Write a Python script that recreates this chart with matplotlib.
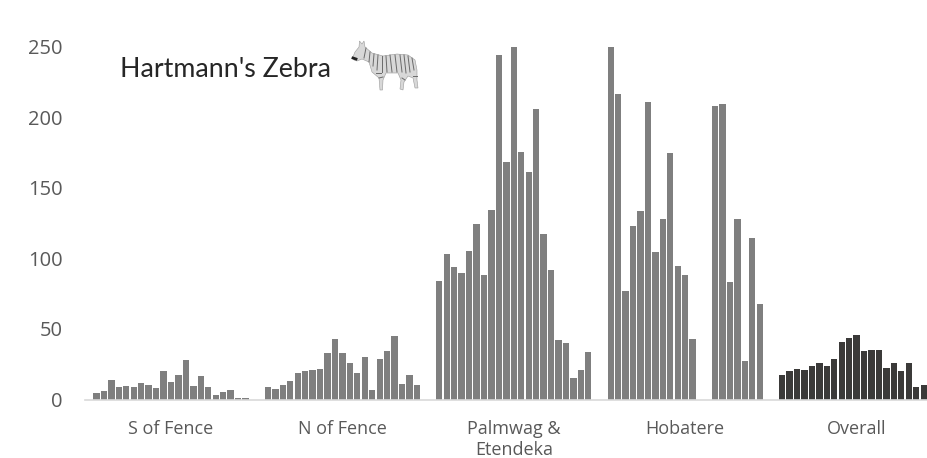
import matplotlib
matplotlib.use("Agg")
import matplotlib.pyplot as plt
from matplotlib.patches import Polygon

categories = ["S of Fence", "N of Fence", "Palmwag &\nEtendeka", "Hobatere", "Overall"]
s_fence = [4.7, 5.7, 13.9, 9.2, 9.7, 9.2, 11.8, 10.4, 8.0, 20.0, 12.5, 17.2, 28.0, 9.7, 16.3, 8.5, 3.0, 5.2, 6.8, 1.4, 1.2]
n_fence = [9.2, 7.1, 10.2, 13.0, 18.9, 20.5, 20.8, 21.5, 33.0, 42.7, 32.6, 26.2, 18.9, 30.0, 6.8, 29.0, 34.5, 45.0, 10.9, 17.5, 10.6]
palmwag = [84, 103.3, 93.6, 89.4, 105.2, 124.1, 88.4, 134, 243.7, 168, 250, 175.2, 160.8, 205.7, 117, 91.5, 41.8, 39.7, 14.9, 20.6, 33.6]
hobatere = [250, 216.3, 76.6, 123.2, 133.3, 210.6, 104.3, 127.7, 174.5, 94.8, 87.9, 42.6, 0, 0, 207.6, 209.2, 83, 128.1, 27, 114.4, 67.8]
overall = [17.7, 20, 21.5, 20.8, 23.8, 26.2, 23.8, 29, 40.6, 43.9, 46, 34.7, 35.2, 35.2, 22, 25.5, 20, 26.2, 9.2, 10.6]
y_ticks = [0, 50, 100, 150, 200, 250]
title = "Hartmann's Zebra"

W, H = 928, 458
fig = plt.figure(figsize=(W / 100, H / 100), dpi=100)
left, right, top, bottom = 85.3, 928, 46.5, 399.5
ax = fig.add_axes([left / W, 1 - bottom / H, (right - left) / W, (bottom - top) / H])

series = [s_fence, n_fence, palmwag, hobatere, overall]
colors = ["#7f7f7f"] * 4 + ["#3b3a39"]
pos = 0
centers = []
for vals, c in zip(series, colors):
    xs = list(range(pos, pos + len(vals)))
    ax.bar(xs, vals, width=0.85, color=c, linewidth=0)
    centers.append(pos + 10)
    pos += 23

ax.set_xlim((left - 96.5) / 7.452, (right - 96.5) / 7.452)
ax.set_ylim(0, 250)
for s in ["top", "right", "left"]:
    ax.spines[s].set_visible(False)
ax.spines["bottom"].set_color("#d9d9d9")
ax.spines["bottom"].set_linewidth(1.2)
ax.set_xticks(centers)
ax.set_xticklabels(categories, fontsize=13, color="#595959", family="Open Sans", linespacing=1.2)
ax.set_yticks(y_ticks)
ax.set_yticklabels([str(v) for v in y_ticks], fontsize=14.5, color="#595959", family="Open Sans")
ax.tick_params(axis="both", length=0)
ax.tick_params(axis="x", pad=15)
ax.tick_params(axis="y", pad=16.5)

# overlay in pixel coordinates for the caption and zebra icon
ov = fig.add_axes([0, 0, 1, 1], facecolor="none")
ov.set_xlim(0, W)
ov.set_ylim(H, 0)
ov.axis("off")
ov.text(120, 69.5, title, fontsize=19.3, color="#262626", family="Lato", va="center", ha="left")

body = [(353, 57), (355, 52), (359, 47), (359.5, 41), (362, 44), (364, 41), (365, 47), (372, 53), (383, 56),
        (397, 54), (408, 55), (415, 60), (417, 70), (417, 80), (418, 88), (415, 88), (413, 78), (408, 76),
        (404, 82), (403, 90), (400, 89), (401, 80), (398, 73), (386, 73), (383, 80), (382.5, 90), (380, 90),
        (379, 78), (372, 72), (369, 62), (362, 59), (357, 61), (354, 60)]
ov.add_patch(Polygon(body, closed=True, facecolor="#d8d8d8", edgecolor="#9a9a9a", linewidth=0.4))
for x0, y0, x1, y1 in [(366, 48, 364, 58), (370, 52, 369, 62), (374, 54, 373, 66), (378, 55, 377, 70),
                       (382, 56, 382, 72), (386, 56, 387, 72), (390, 55, 392, 72), (395, 55, 397, 72),
                       (400, 55, 402, 72), (404, 55, 406, 73), (408, 56, 410, 72), (412, 58, 414, 70),
                       (376, 73, 381, 73), (379, 78, 383, 77), (402, 78, 405, 80), (413, 76, 417, 76)]:
    ov.plot([x0, x1], [y0, y1], color="#6a6a6a", linewidth=0.7)
ov.plot([353, 356], [58, 59], color="#222222", linewidth=2)

fig.savefig("out.png", dpi=100)
